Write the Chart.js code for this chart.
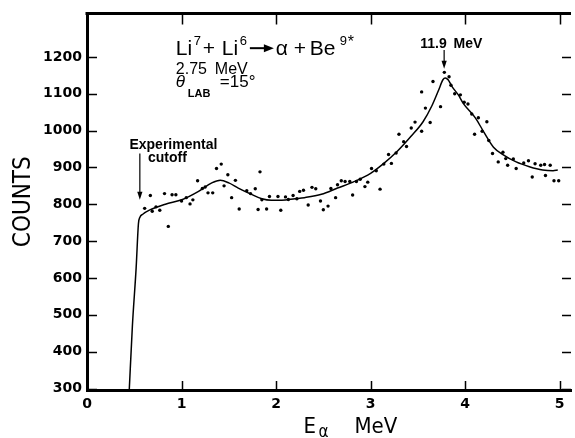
<!DOCTYPE html>
<html>
<head>
<meta charset="utf-8">
<script src="https://cdn.jsdelivr.net/npm/chart.js@4.4.1/dist/chart.umd.min.js"></script>
<style>
  html, body { margin: 0; padding: 0; background: #ffffff; }
  #wrap { width: 575px; height: 438px; position: relative; }
</style>
</head>
<body>
<div id="wrap"><canvas id="c" width="575" height="438"></canvas></div>
<script>
// ---- data ----
const dotE = [0.61,0.67,0.69,0.73,0.77,0.82,0.86,0.90,0.94,1.00,1.05,1.09,1.12,1.17,1.22,1.25,1.28,1.33,1.37,1.42,
  1.45,1.49,1.53,1.57,1.61,1.69,1.73,1.78,1.81,1.83,1.85,1.90,1.93,2.02,2.05,2.10,2.13,2.18,2.22,2.25,
  2.29,2.34,2.38,2.42,2.47,2.50,2.55,2.58,2.63,2.65,2.69,2.73,2.78,2.81,2.85,2.89,2.94,2.97,3.01,3.06,
  3.10,3.14,3.19,3.22,3.27,3.30,3.35,3.38,3.43,3.47,3.54,3.54,3.58,3.63,3.66,3.74,3.78,3.83,3.85,3.89,
  3.95,3.99,4.03,4.07,4.10,4.14,4.18,4.23,4.25,4.29,4.35,4.40,4.43,4.45,4.51,4.54,4.62,4.67,4.71,4.74,
  4.80,4.84,4.85,4.90,4.94,4.99];
const dotCounts = [789,824,781,793,784,829,740,826,826,809,818,801,812,864,843,847,831,831,897,909,
  850,880,818,865,787,837,829,842,786,888,812,787,821,821,784,820,813,824,815,835,
  838,798,846,842,809,785,795,843,818,853,864,862,862,825,862,868,848,860,897,891,
  841,909,935,911,939,990,970,957,1007,1023,998,1105,1061,1022,1133,1065,1158,1146,1123,1100,
  1097,1077,1072,1045,990,1035,998,1024,973,938,915,941,924,906,923,897,912,918,874,910,
  906,908,878,906,864,864];

const fitE = [0.447,0.48,0.52,0.544,0.56,0.59,0.66,0.83,1.01,1.18,1.32,1.41,1.50,1.60,1.74,1.85,1.95,2.06,
  2.20,2.30,2.48,2.65,2.83,3.00,3.14,3.28,3.43,3.555,3.65,3.72,3.765,3.79,3.82,3.86,3.93,3.98,4.11,4.20,
  4.30,4.40,4.54,4.68,4.82,4.93,4.98];
const fitCounts = [296,469,628,747,765,773,784,800,813,835,858,865,858,844,827,815,811,811,
  815,818,827,844,862,884,911,943,985,1024,1068,1110,1138,1143,1138,1120,1096,1074,1034,995,
  955,935,915,902,893,891,893];

const xTickValues = [0,1,2,3,4,5];
const yTickValues = [300,400,500,600,700,800,900,1000,1100,1200];
const xRange = [0, 5.12];
const yRange = [296, 1318];

const yTitle = 'COUNTS';
const xTitleMain = 'E', xTitleSub = 'α', xTitleUnit = 'MeV';
const cutoffLines = ['Experimental', 'cutoff'];
const peakLabel = ['11.9', 'MeV'];

// ---- annotation plugin ----
const SANS = '"Liberation Sans", Arial, sans-serif';
const COND = '"DejaVu Sans Condensed", "DejaVu Sans", sans-serif';
const annot = {
  id: 'annot',
  afterDraw(chart) {
    const {ctx, chartArea: a, scales: {x: xs, y: ys}} = chart;
    const X = v => xs.getPixelForValue(v);
    const Y = v => ys.getPixelForValue(v);
    ctx.save();
    ctx.strokeStyle = '#000';
    ctx.fillStyle = '#000';
    // top frame
    ctx.lineWidth = 3;
    ctx.beginPath();
    ctx.moveTo(a.left - 1.5, a.top);
    ctx.lineTo(a.right, a.top);
    ctx.stroke();
    // inward tick marks
    ctx.lineWidth = 1.5;
    ctx.beginPath();
    yTickValues.forEach(v => {
      const py = Math.round(Y(v)) + 0.5;
      ctx.moveTo(a.left, py); ctx.lineTo(a.left + 10, py);
      ctx.moveTo(a.right - 9, py); ctx.lineTo(a.right, py);
    });
    xTickValues.filter(v => v > 0).forEach(v => {
      const px = Math.round(X(v)) + 0.5;
      ctx.moveTo(px, a.bottom); ctx.lineTo(px, a.bottom - 9);
      ctx.moveTo(px, a.top); ctx.lineTo(px, a.top + 11);
    });
    ctx.stroke();

    const txt = (s, x, y, font, align) => {
      ctx.font = font; ctx.textAlign = align || 'left'; ctx.textBaseline = 'alphabetic';
      ctx.fillText(s, x, y);
    };
    const downArrow = (x, y1, y2) => {
      ctx.lineWidth = 1.2;
      ctx.beginPath(); ctx.moveTo(x, y1); ctx.lineTo(x, y2 - 6); ctx.stroke();
      ctx.beginPath(); ctx.moveTo(x, y2); ctx.lineTo(x - 2.6, y2 - 8); ctx.lineTo(x + 2.6, y2 - 8); ctx.closePath(); ctx.fill();
    };

    // reaction label block
    const rx = X(0.94), r1 = Y(1206), r2 = Y(1154), r3 = Y(1117);
    const big = '21px ' + SANS, sup = '13px ' + SANS;
    txt('Li', rx, r1, big);
    txt('7', rx + 18, r1 - 10, sup);
    txt('+', rx + 27, r1, big);
    txt('Li', rx + 46, r1, big);
    txt('6', rx + 64, r1 - 10, sup);
    ctx.lineWidth = 2;
    ctx.beginPath(); ctx.moveTo(rx + 74, r1 - 6.5); ctx.lineTo(rx + 90, r1 - 6.5); ctx.stroke();
    ctx.beginPath(); ctx.moveTo(rx + 98, r1 - 6.5); ctx.lineTo(rx + 88, r1 - 10.5); ctx.lineTo(rx + 88, r1 - 2.5); ctx.closePath(); ctx.fill();
    txt('α', rx + 100, r1, big);
    txt('+', rx + 118, r1, big);
    txt('Be', rx + 134, r1, big);
    txt('9', rx + 164, r1 - 10, sup);
    txt('*', rx + 172, r1 - 8, '16px ' + SANS);

    txt('2.75', rx, r2, '16px ' + SANS);
    txt('MeV', rx + 39, r2, '16px ' + SANS);

    txt('θ', rx, r3, 'italic 17px ' + SANS);
    txt('LAB', rx + 12, r3 + 10, 'bold 11px ' + SANS);
    txt('=15°', rx + 44, r3, '17px ' + SANS);

    // experimental cutoff
    txt(cutoffLines[0], X(0.914), Y(950), 'bold 14px ' + SANS, 'center');
    txt(cutoffLines[1], X(0.851), Y(914), 'bold 14px ' + SANS, 'center');
    downArrow(X(0.559), Y(938), Y(812));

    // peak label
    txt(peakLabel[0], X(3.525), Y(1223), 'bold 14px ' + SANS);
    txt(peakLabel[1], X(3.877), Y(1223), 'bold 14px ' + SANS);
    downArrow(X(3.778), Y(1219), Y(1168));

    // x-axis title with subscript
    const tx = X(2.29), ty = a.bottom + 43;
    txt(xTitleMain, tx, ty, '22px ' + COND);
    txt(xTitleSub, tx + 15, ty + 4, '17px ' + COND);
    txt(xTitleUnit, tx + 51, ty, '22px ' + COND);
    ctx.restore();
  }
};

const tickFont = {family: '"DejaVu Sans", sans-serif', weight: 'bold', size: 14};

new Chart(document.getElementById('c'), {
  type: 'scatter',
  data: {
    datasets: [
      {
        type: 'line',
        label: 'fit',
        data: fitE.map((x, i) => ({x, y: fitCounts[i]})),
        borderColor: '#000',
        borderWidth: 1.5,
        pointRadius: 0,
        cubicInterpolationMode: 'monotone',
        fill: false
      },
      {
        label: 'counts',
        data: dotE.map((x, i) => ({x, y: dotCounts[i]})),
        backgroundColor: '#000',
        borderColor: '#000',
        borderWidth: 0,
        pointRadius: 1.7
      }
    ]
  },
  options: {
    responsive: false,
    animation: false,
    devicePixelRatio: 1,
    layout: {padding: {top: 5, left: 0, right: 0, bottom: 0}},
    plugins: {legend: {display: false}, tooltip: {enabled: false}},
    scales: {
      x: {
        type: 'linear',
        min: xRange[0], max: xRange[1],
        afterBuildTicks: s => { s.ticks = xTickValues.map(v => ({value: v})); },
        afterFit: s => { s.height = 48; },
        grid: {display: false, drawTicks: false},
        border: {display: true, width: 3, color: '#000'},
        ticks: {padding: 6, color: '#000', font: tickFont, maxRotation: 0, autoSkip: false,
                callback: v => String(v)}
      },
      y: {
        type: 'linear',
        min: yRange[0], max: yRange[1],
        afterBuildTicks: s => { s.ticks = yTickValues.map(v => ({value: v})); },
        afterFit: s => { s.width = 87; },
        grid: {display: false, drawTicks: false},
        border: {display: true, width: 3, color: '#000'},
        ticks: {padding: 5, color: '#000', font: tickFont, autoSkip: false,
                callback: v => String(v)},
        title: {
          display: true, text: yTitle, color: '#000',
          font: {family: '"DejaVu Sans Condensed", "DejaVu Sans", sans-serif', size: 24, weight: 'normal'},
          padding: {top: 9, bottom: 0}
        }
      }
    }
  },
  plugins: [annot]
});
</script>
</body>
</html>
